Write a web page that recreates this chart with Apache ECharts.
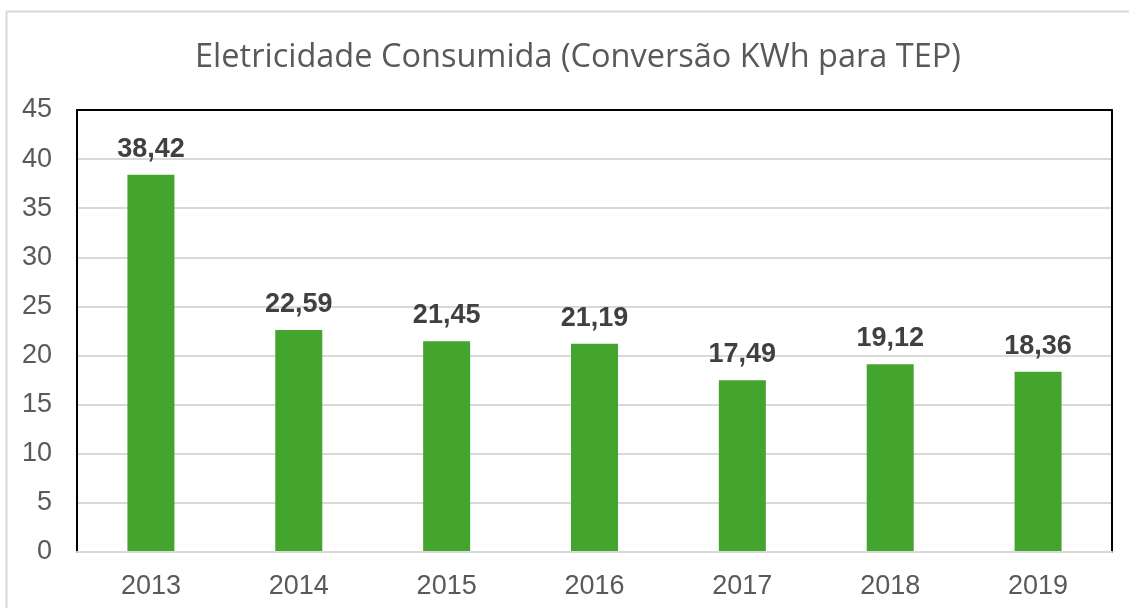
<!DOCTYPE html>
<html>
<head>
<meta charset="utf-8">
<script src="https://cdn.jsdelivr.net/npm/echarts@6/dist/echarts.min.js"></script>
<style>
  html, body { margin: 0; padding: 0; background: #fff; }
  #chart { width: 1129px; height: 608px; }
</style>
</head>
<body>
<div id="chart"></div>
<script>
var anos = ['2013', '2014', '2015', '2016', '2017', '2018', '2019'];
var consumo = [38.42, 22.59, 21.45, 21.19, 17.49, 19.12, 18.36];
var titulo = 'Eletricidade Consumida (Conversão KWh para TEP)';

var mychart = echarts.init(document.getElementById('chart'));
var blackLine = { show: true, onZero: false, lineStyle: { color: '#000', width: 2 } };
var option = {
    animation: false,
    backgroundColor: '#fff',
    title: {
        text: titulo,
        left: 573,
        textAlign: 'center',
        top: 36,
        textStyle: {
            fontFamily: 'Open Sans',
            fontWeight: 'normal',
            fontSize: 32.5,
            color: '#595959'
        }
    },
    graphic: [{
        type: 'rect',
        shape: { x: 6.5, y: 11.5, width: 1140, height: 620 },
        style: { fill: 'none', stroke: '#d9d9d9', lineWidth: 2 },
        silent: true
    }],
    grid: {
        left: 77,
        right: 17,
        top: 110,
        bottom: 56
    },
    xAxis: [{
        type: 'category',
        data: anos,
        axisTick: { show: false },
        axisLine: { lineStyle: { color: '#d9d9d9', width: 2 } },
        axisLabel: {
            color: '#595959',
            fontFamily: 'Liberation Sans',
            fontSize: 27,
            margin: 21
        },
        z: 3
    }, {
        type: 'category',
        data: anos,
        position: 'top',
        axisTick: { show: false },
        axisLabel: { show: false },
        axisLine: blackLine,
        z: 3
    }],
    yAxis: [{
        type: 'value',
        min: 0,
        max: 45,
        interval: 5,
        axisLine: blackLine,
        axisTick: { show: false },
        splitLine: { lineStyle: { color: '#d9d9d9', width: 2 } },
        axisLabel: {
            color: '#595959',
            fontFamily: 'Liberation Sans',
            fontSize: 27,
            margin: 25
        }
    }, {
        type: 'value',
        min: 0,
        max: 45,
        interval: 5,
        position: 'right',
        axisLine: blackLine,
        axisTick: { show: false },
        axisLabel: { show: false },
        splitLine: { show: false },
        z: 3
    }],
    series: [{
        type: 'bar',
        data: consumo,
        barWidth: 47,
        itemStyle: { color: '#43a52e' },
        label: {
            show: true,
            position: 'top',
            distance: 12,
            color: '#404040',
            fontFamily: 'Liberation Sans',
            fontWeight: 'bold',
            fontSize: 27,
            formatter: function (p) {
                return p.value.toFixed(2).replace('.', ',');
            }
        }
    }]
};
mychart.setOption(option);
</script>
</body>
</html>
